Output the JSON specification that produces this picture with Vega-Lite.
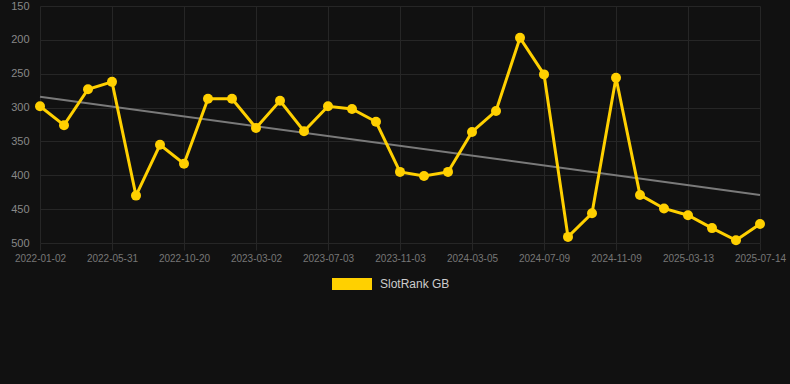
{
  "$schema": "https://vega.github.io/schema/vega-lite/v6.json",
  "width": 758,
  "height": 237,
  "autosize": "none",
  "padding": {"left": 32, "top": 6, "right": 0, "bottom": 141},
  "background": "#111111",
  "config": {"view": {"stroke": null}, "font": "Liberation Sans"},
  "datasets": {
    "rank": [
      {"date": "2022-01-02", "rank": 298},
      {"date": "2022-02-19", "rank": 326},
      {"date": "2022-04-10", "rank": 273},
      {"date": "2022-05-31", "rank": 262},
      {"date": "2022-07-17", "rank": 430},
      {"date": "2022-09-03", "rank": 355},
      {"date": "2022-10-20", "rank": 383},
      {"date": "2022-12-03", "rank": 287},
      {"date": "2023-01-17", "rank": 287},
      {"date": "2023-03-02", "rank": 330},
      {"date": "2023-04-12", "rank": 290},
      {"date": "2023-05-23", "rank": 335},
      {"date": "2023-07-03", "rank": 298},
      {"date": "2023-08-13", "rank": 302},
      {"date": "2023-09-23", "rank": 321},
      {"date": "2023-11-03", "rank": 395},
      {"date": "2023-12-14", "rank": 401},
      {"date": "2024-01-24", "rank": 395},
      {"date": "2024-03-05", "rank": 336},
      {"date": "2024-04-16", "rank": 305},
      {"date": "2024-05-28", "rank": 197},
      {"date": "2024-07-09", "rank": 251},
      {"date": "2024-08-19", "rank": 491},
      {"date": "2024-09-29", "rank": 456},
      {"date": "2024-11-09", "rank": 256},
      {"date": "2024-12-20", "rank": 429},
      {"date": "2025-01-31", "rank": 449},
      {"date": "2025-03-13", "rank": 459},
      {"date": "2025-04-23", "rank": 478},
      {"date": "2025-06-03", "rank": 496},
      {"date": "2025-07-14", "rank": 472}
    ],
    "trend": [
      {"date": "2022-01-02", "rank": 284},
      {"date": "2025-07-14", "rank": 429}
    ]
  },
  "encoding": {
    "x": {
      "field": "date",
      "type": "ordinal",
      "sort": null,
      "scale": {
        "type": "point",
        "range": [8, 728],
        "padding": 0,
        "domain": ["2022-01-02","2022-02-19","2022-04-10","2022-05-31","2022-07-17","2022-09-03","2022-10-20","2022-12-03","2023-01-17","2023-03-02","2023-04-12","2023-05-23","2023-07-03","2023-08-13","2023-09-23","2023-11-03","2023-12-14","2024-01-24","2024-03-05","2024-04-16","2024-05-28","2024-07-09","2024-08-19","2024-09-29","2024-11-09","2024-12-20","2025-01-31","2025-03-13","2025-04-23","2025-06-03","2025-07-14"]
      },
      "axis": {
        "values": ["2022-01-02","2022-05-31","2022-10-20","2023-03-02","2023-07-03","2023-11-03","2024-03-05","2024-07-09","2024-11-09","2025-03-13","2025-07-14"],
        "title": null,
        "labelAngle": 0,
        "labelColor": "#777777",
        "labelFontSize": 10,
        "labelPadding": 3,
        "domain": false,
        "ticks": true,
        "tickColor": "#262626",
        "tickSize": 7,
        "grid": true,
        "gridColor": "#262626"
      }
    },
    "y": {
      "field": "rank",
      "type": "quantitative",
      "scale": {"domain": [150, 500], "reverse": true, "nice": false, "zero": false},
      "axis": {
        "values": [150, 200, 250, 300, 350, 400, 450, 500],
        "title": null,
        "domain": false,
        "ticks": false,
        "labelColor": "#888888",
        "labelFontSize": 11,
        "labelPadding": 3,
        "grid": true,
        "gridColor": "#262626"
      }
    }
  },
  "layer": [
    {
      "data": {"name": "trend"},
      "mark": {"type": "line", "color": "#7a7a7a", "strokeWidth": 2}
    },
    {
      "data": {"name": "rank"},
      "mark": {"type": "line", "strokeWidth": 3},
      "encoding": {
        "color": {
          "datum": "SlotRank GB",
          "scale": {"range": ["#FFD000"]},
          "legend": {
            "orient": "none",
            "legendX": 300,
            "legendY": 258,
            "title": null,
            "symbolType": "M-1,-0.3H1V0.3H-1Z",
            "symbolSize": 1600,
            "symbolFillColor": "#FFD000",
            "symbolStrokeColor": "#FFD000",
            "symbolStrokeWidth": 0,
            "labelColor": "#cccccc",
            "labelFontSize": 12,
            "labelOffset": 8
          }
        }
      }
    },
    {
      "data": {"name": "rank"},
      "mark": {"type": "point", "filled": true, "size": 100, "opacity": 1},
      "encoding": {
        "color": {"datum": "SlotRank GB"}
      }
    }
  ]
}
